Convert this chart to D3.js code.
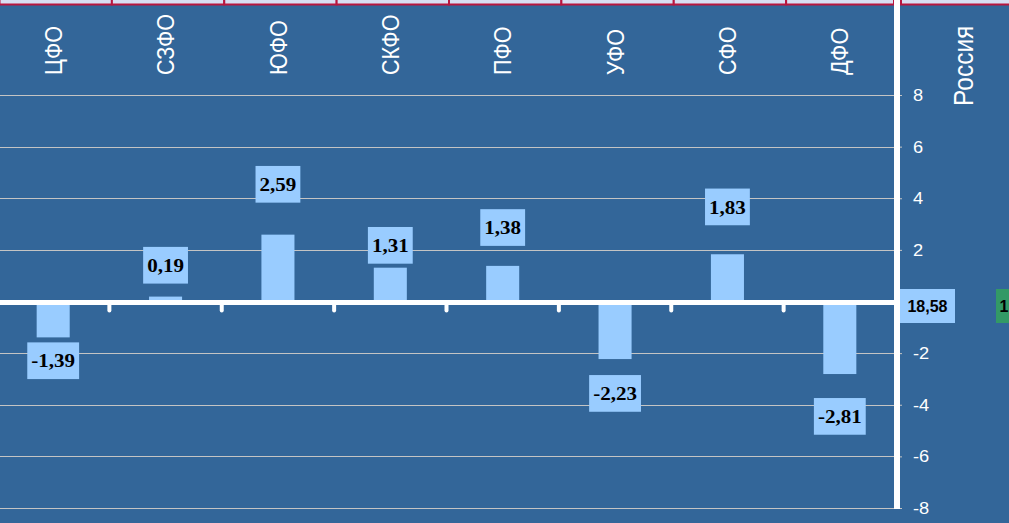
<!DOCTYPE html>
<html>
<head>
<meta charset="utf-8">
<script src="https://cdn.jsdelivr.net/npm/d3@7"></script>
<style>
  body { margin: 0; overflow: hidden; background: #336699; }
  svg { display: block; }
</style>
</head>
<body>
<div id="graphic"></div>
<script>
var categories = ["ЦФО", "СЗФО", "ЮФО", "СКФО", "ПФО", "УФО", "СФО", "ДФО"];
var values = [-1.39, 0.19, 2.59, 1.31, 1.38, -2.23, 1.83, -2.81];
var totalName = "Россия";
var totalValue = 18.58;
var nextValueText = "1"; // cut off by the right edge
var yTicks = [8, 6, 4, 2, -2, -4, -6, -8];

// gap in px between bar end and its label box (labels were moved by hand)
var labelGap = [5, 13, 32, 4, 20, 16, 29, 24];

var width = 1009;
var height = 523;
var stretch = 1.14; // the source picture is a bit wider than tall
var axisX = 897;
var bg = "#336699";
var barColor = "#99ccff";
var gridColor = "#c4c4c4";

var locale = d3.formatLocale({ decimal: ",", thousands: " ", grouping: [3], currency: ["", ""], minus: "-" });
var fmt = locale.format(".2f");

var svg = d3.select("#graphic")
  .append("svg")
  .attr("width", width)
  .attr("height", height);

svg.append("rect")
  .attr("width", width)
  .attr("height", height)
  .attr("fill", bg);

var xScale = d3.scaleBand()
  .domain(categories)
  .range([-3, 896])
  .paddingInner(0.706)
  .paddingOuter(0.353);

var yScale = d3.scaleLinear()
  .domain([-8, 8])
  .range([508, 95]);

var step = xScale.step();
var bandStart = function(i) { return xScale(categories[i]) - step * 0.353; };

// header cells cut off at the top
var cellEdges = categories.map((c, i) => bandStart(i) + 2.5);
cellEdges.push(axisX - 3);
var cells = svg.append("g");
for (var i = 0; i < cellEdges.length - 1; i++) {
  cells.append("rect")
    .attr("x", Math.max(cellEdges[i], -2))
    .attr("y", -10)
    .attr("width", cellEdges[i + 1] - Math.max(cellEdges[i], -2))
    .attr("height", 14.5)
    .attr("fill", "#d9def2")
    .attr("stroke", "#b8163f")
    .attr("stroke-width", 2);
}
cells.append("rect")
  .attr("x", axisX + 4)
  .attr("y", -10)
  .attr("width", 200)
  .attr("height", 14.5)
  .attr("fill", "#d9def2")
  .attr("stroke", "#b8163f")
  .attr("stroke-width", 2);

// gridlines
svg.append("g")
  .selectAll("line")
  .data(yTicks)
  .join("line")
  .attr("x1", 0)
  .attr("x2", axisX)
  .attr("y1", d => Math.round(yScale(d)) + 0.5)
  .attr("y2", d => Math.round(yScale(d)) + 0.5)
  .attr("stroke", gridColor)
  .attr("stroke-width", 1);

// bars
svg.append("g")
  .selectAll("rect")
  .data(values)
  .join("rect")
  .attr("x", (d, i) => xScale(categories[i]))
  .attr("width", xScale.bandwidth())
  .attr("y", d => Math.min(yScale(d), yScale(0)))
  .attr("height", d => Math.abs(yScale(d) - yScale(0)))
  .attr("fill", barColor);

// zero line and its ticks
svg.append("rect")
  .attr("x", 0)
  .attr("y", yScale(0) - 1.5)
  .attr("width", axisX)
  .attr("height", 5)
  .attr("fill", "#fff");

svg.append("g")
  .selectAll("line")
  .data(categories.slice(1))
  .join("line")
  .attr("x1", (d, i) => bandStart(i + 1))
  .attr("x2", (d, i) => bandStart(i + 1))
  .attr("y1", yScale(0) + 3)
  .attr("y2", yScale(0) + 9)
  .attr("stroke", "#fff")
  .attr("stroke-width", 4)
  .attr("stroke-linecap", "round");

// y axis on the right
var yAxis = svg.append("g")
  .attr("transform", "translate(" + axisX + ",0)")
  .call(d3.axisRight(yScale).tickValues(yTicks).tickSize(5).tickFormat(locale.format("d")));
yAxis.select(".domain").remove();
yAxis.selectAll(".tick line").attr("stroke", gridColor);
yAxis.selectAll(".tick text")
  .attr("x", 16 / stretch)
  .attr("dy", "0.35em")
  .attr("transform", "scale(" + stretch + ",1)")
  .attr("fill", "#fff")
  .style("font-family", "'Liberation Sans', Arial, sans-serif")
  .style("font-size", "16px");

svg.append("rect")
  .attr("x", axisX - 3)
  .attr("y", 0)
  .attr("width", 6)
  .attr("height", yScale(-8) + 1)
  .attr("fill", "#fff");

// category names
svg.append("g")
  .selectAll("g")
  .data(categories)
  .join("g")
  .attr("transform", d => "translate(" + (xScale(d) + xScale.bandwidth() / 2) + ",75) scale(" + stretch + ",1) rotate(-90)")
  .append("text")
  .attr("dy", "0.35em")
  .attr("fill", "#fff")
  .style("font-family", "'Liberation Sans', Arial, sans-serif")
  .style("font-size", "21.5px")
  .text(d => d);

svg.append("g")
  .attr("transform", "translate(963,106) scale(" + stretch + ",1) rotate(-90)")
  .append("text")
  .attr("dy", "0.35em")
  .attr("fill", "#fff")
  .style("font-family", "'Liberation Sans', Arial, sans-serif")
  .style("font-size", "24.5px")
  .text(totalName);

// value labels
var boxH = 36.7;
var textScale = 1.08;
var labels = svg.append("g")
  .selectAll("g")
  .data(values)
  .join("g")
  .attr("transform", function(d, i) {
    var cx = xScale(categories[i]) + xScale.bandwidth() / 2;
    var cy = d >= 0
      ? yScale(d) - labelGap[i] - boxH / 2
      : yScale(d) + labelGap[i] + boxH / 2;
    return "translate(" + cx + "," + cy + ")";
  });

labels.append("rect").attr("fill", barColor);
labels.append("text")
  .attr("text-anchor", "middle")
  .attr("dy", "0.34em")
  .attr("transform", "scale(" + textScale + ",1)")
  .attr("fill", "#000")
  .style("font-family", "'Liberation Serif', 'Times New Roman', serif")
  .style("font-weight", "bold")
  .style("font-size", "19.5px")
  .text(d => fmt(d));

labels.each(function() {
  var g = d3.select(this);
  var w = g.select("text").node().getComputedTextLength() * textScale + 8;
  g.select("rect")
    .attr("x", -w / 2)
    .attr("y", -boxH / 2)
    .attr("width", w)
    .attr("height", boxH);
});

// total value for Russia
svg.append("rect")
  .attr("x", 900)
  .attr("y", 289)
  .attr("width", 55)
  .attr("height", 34)
  .attr("fill", barColor);
svg.append("text")
  .attr("x", 927.5)
  .attr("y", 306)
  .attr("dy", "0.36em")
  .attr("text-anchor", "middle")
  .style("font-family", "'Liberation Sans', Arial, sans-serif")
  .style("font-weight", "bold")
  .style("font-size", "16px")
  .text(fmt(totalValue));

svg.append("rect")
  .attr("x", 996)
  .attr("y", 289)
  .attr("width", 60)
  .attr("height", 34)
  .attr("fill", "#339966");
svg.append("text")
  .attr("x", 999.5)
  .attr("y", 306)
  .attr("dy", "0.36em")
  .style("font-family", "'Liberation Sans', Arial, sans-serif")
  .style("font-weight", "bold")
  .style("font-size", "16px")
  .text(nextValueText);
</script>
</body>
</html>
